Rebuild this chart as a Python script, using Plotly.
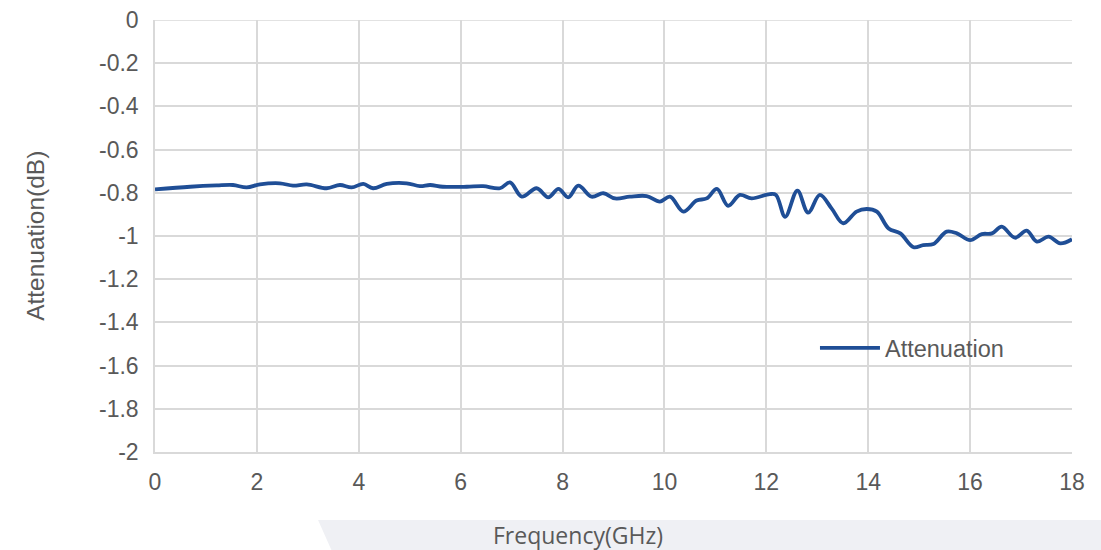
import plotly.graph_objects as go

freq_ghz = [0.00, 0.69, 1.21, 1.53, 1.80, 2.06, 2.45, 2.71, 2.98, 3.37, 3.63, 3.86, 4.09, 4.28,
            4.55, 4.94, 5.20, 5.40, 5.65, 6.12, 6.44, 6.77, 6.97, 7.20, 7.49, 7.72, 7.92, 8.11,
            8.31, 8.57, 8.80, 9.03, 9.32, 9.65, 9.91, 10.11, 10.37, 10.63, 10.83, 11.03, 11.25,
            11.48, 11.71, 12.07, 12.19, 12.37, 12.61, 12.82, 13.05, 13.28, 13.51, 13.77, 13.97,
            14.17, 14.40, 14.63, 14.89, 15.08, 15.28, 15.54, 15.74, 16.00, 16.23, 16.43, 16.62,
            16.88, 17.11, 17.31, 17.54, 17.77, 18.00]
attenuation_db = [-0.784, -0.772, -0.766, -0.764, -0.775, -0.761, -0.756, -0.767, -0.761, -0.779,
                  -0.764, -0.775, -0.759, -0.779, -0.759, -0.756, -0.769, -0.764, -0.772, -0.772,
                  -0.769, -0.779, -0.752, -0.818, -0.779, -0.821, -0.782, -0.821, -0.767, -0.818,
                  -0.802, -0.826, -0.818, -0.815, -0.841, -0.818, -0.887, -0.836, -0.826, -0.782,
                  -0.860, -0.810, -0.826, -0.806, -0.810, -0.911, -0.790, -0.892, -0.810, -0.872,
                  -0.941, -0.887, -0.875, -0.887, -0.965, -0.988, -1.052, -1.042, -1.037, -0.980,
                  -0.988, -1.019, -0.991, -0.988, -0.957, -1.008, -0.975, -1.026, -1.003, -1.034,
                  -1.015]

x_ticks = [0, 2, 4, 6, 8, 10, 12, 14, 16, 18]
y_ticks = [0, -0.2, -0.4, -0.6, -0.8, -1, -1.2, -1.4, -1.6, -1.8, -2]
y_tick_labels = ["0", "-0.2", "-0.4", "-0.6", "-0.8", "-1", "-1.2", "-1.4", "-1.6", "-1.8", "-2"]

TXT = "#595959"
GRID = "#d9d9d9"
FONT = "Liberation Sans, Arial, sans-serif"

fig = go.Figure()
fig.add_trace(go.Scatter(
    x=freq_ghz, y=attenuation_db, mode="lines", name="Attenuation",
    line=dict(color="#1f4e96", width=3.8, shape="spline", smoothing=1.0),
))

fig.update_layout(
    width=1101, height=550,
    margin=dict(l=155, r=29, t=20, b=98, autoexpand=False),
    paper_bgcolor="white", plot_bgcolor="white",
    font=dict(family=FONT, size=24, color=TXT),
    showlegend=True,
    legend=dict(x=0.7197, y=0.2407, xanchor="left", yanchor="middle", itemwidth=60,
                bgcolor="rgba(0,0,0,0)", font=dict(family=FONT, size=23.5, color=TXT)),
    xaxis=dict(range=[0, 18], tickvals=x_ticks, showgrid=True, gridcolor=GRID, gridwidth=1.5,
               zeroline=False, showline=True, linecolor=GRID, linewidth=1.5, automargin=False,
               ticks="outside", ticklen=9, tickcolor="rgba(0,0,0,0)",
               tickfont=dict(family=FONT, size=23, color=TXT)),
    yaxis=dict(range=[-2, 0], tickvals=y_ticks, ticktext=y_tick_labels, showgrid=True,
               gridcolor=GRID, gridwidth=1.5, zeroline=False, showline=True, automargin=False,
               linecolor=GRID, linewidth=1.5, ticks="outside", ticklen=10,
               tickcolor="rgba(0,0,0,0)",
               tickfont=dict(family=FONT, size=23, color=TXT)),
    shapes=[dict(type="path", xref="paper", yref="paper",
                 path="M 0.1778 -0.1574 L 1.04 -0.1574 L 1.04 -0.235 L 0.1941 -0.235 Z",
                 fillcolor="#eff0f4", line=dict(width=0), layer="below"),
            dict(type="line", xref="paper", yref="y", x0=0, x1=1, y0=y_ticks[0], y1=y_ticks[0],
                 line=dict(color=GRID, width=1.5), layer="below")],
    annotations=[
        dict(text="Frequency(GHz)", xref="paper", yref="paper", x=0.461, y=-0.192,
             showarrow=False, xanchor="center", yanchor="middle",
             font=dict(family="Open Sans, sans-serif", size=23, color=TXT)),
        dict(text="Attenuation(dB)", xref="paper", yref="paper", x=-0.131, y=0.5,
             showarrow=False, textangle=-90, xanchor="center", yanchor="middle",
             font=dict(family=FONT, size=24.5, color=TXT)),
    ],
)

fig.write_html("out.html", config={"displayModeBar": False},
               post_script="document.body.style.margin='0px';")
